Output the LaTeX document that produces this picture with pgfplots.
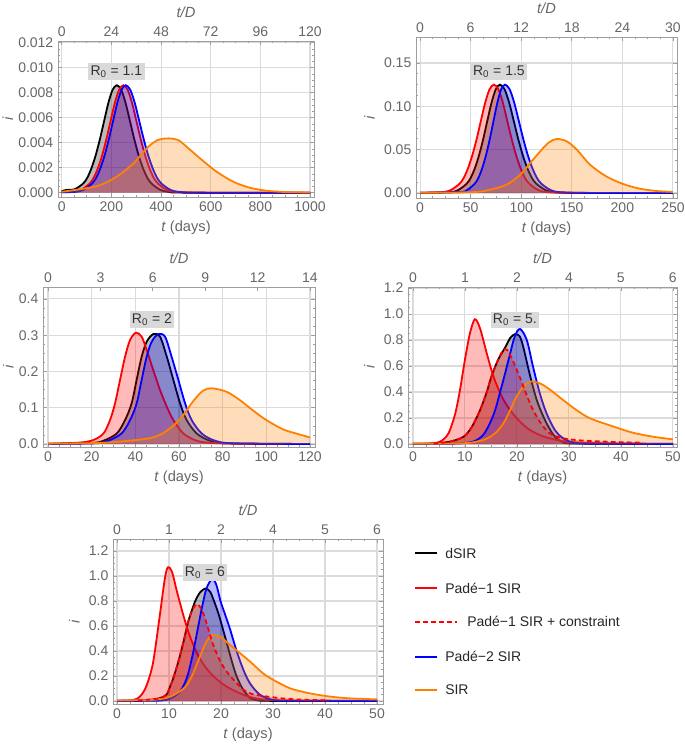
\documentclass[border=0pt]{standalone}
\usepackage{fontspec}
\setmainfont{Liberation Sans}
\usepackage{pgfplots}
\usepackage{pgfplotstable}
\pgfplotsset{compat=1.18}

\definecolor{framec}{gray}{0.62}
\definecolor{ticktext}{gray}{0.40}
\definecolor{gridc}{gray}{0.86}
\definecolor{mblue}{rgb}{0,0,1}
\definecolor{morange}{rgb}{1,0.5,0}
\definecolor{boxgray}{gray}{0.85}

\tikzset{r0box/.style={fill=boxgray, text=black!80, inner sep=1.8pt, font=\fontsize{10.5}{12}\selectfont}}

\pgfplotsset{
  panel/.style={
    scale only axis, anchor=south west,
    axis line style={-, framec, line width=0.7pt},
    tick style={framec, line width=0.5pt},
    major tick length=3pt, minor tick length=1.6pt,
    tick align=inside,
    xtick pos=left, ytick pos=both, yticklabel pos=left,
    minor x tick num=3, minor y tick num=3,
    tick label style={text=ticktext, font=\fontsize{10.5}{12}\selectfont},
    label style={text=ticktext, font=\fontsize{11}{13}\selectfont},
    /pgf/number format/assume math mode=true,
    /pgf/number format/1000 sep={},
    scaled ticks=false,
    grid=major, major grid style={gridc, line width=0.8pt},
    xlabel={\textit{t} (days)}, ylabel={\textit{i}},
  },
  toppanel/.style={
    scale only axis, anchor=south west,
    axis x line*=top, axis y line=none,
    axis line style={-, framec, line width=0.7pt},
    tick style={framec, line width=0.5pt},
    major tick length=3pt, minor tick length=1.6pt,
    tick align=inside,
    tick label style={text=ticktext, font=\fontsize{10.5}{12}\selectfont},
    label style={text=ticktext, font=\fontsize{11}{13}\selectfont},
    xlabel={\textit{t/D}},
    ymin=0, ymax=1,
  },
  ln/.style={line width=1.35pt, smooth},
  ar/.style={draw=none, fill opacity=0.27, smooth},
  dsh/.style={line width=1.35pt, smooth, red, dash pattern=on 3.5pt off 2.5pt},
}

% ---------- R0 = 1.1 ----------
\pgfplotstableread{
t i
0 0.00012
18 0.00022
52 0.00028
86 0.00073
103 0.0012
120 0.00198
137 0.00301
154 0.0043
171 0.00576
188 0.0072
205 0.00824
222 0.0086
239.5 0.00824
257 0.0072
274.5 0.00576
292 0.0043
309.5 0.00301
327 0.00198
344.5 0.0012
362 0.00073
397 0.00023
432 0.00007
500 0.00001
1000 0
}\pAblack
\pgfplotstableread{
t i
0 0.00005
44 0.00007
78 0.00023
112 0.00073
129 0.0012
146 0.00198
163 0.00301
180 0.0043
197 0.00576
214 0.0072
231 0.00824
248 0.0086
265.5 0.00824
283 0.0072
300.5 0.00576
318 0.0043
335.5 0.00301
353 0.00198
370.5 0.0012
388 0.00073
423 0.00023
458 0.00007
550 0.00001
1000 0
}\pAred
\pgfplotstableread{
t i
0 0.00004
54 0.00007
88 0.00023
122 0.00073
139 0.0012
156 0.00198
173 0.00301
190 0.0043
207 0.00576
224 0.0072
241 0.00824
258 0.0086
276 0.00824
294 0.0072
312 0.00576
330 0.0043
348 0.00301
366 0.00198
384 0.0012
402 0.00073
438 0.00023
474 0.00007
560 0.00001
1000 0
}\pAblue
\pgfplotstableread{
t i
0 0.00008
87 0.00032
154 0.00061
221 0.00128
289 0.00235
342 0.00355
385 0.0042
430 0.00435
470 0.0042
503 0.00368
557 0.00275
624 0.00168
691 0.00088
758 0.0004
826 0.00016
900 0.00006
1000 0.00002
}\pAorange

% ---------- R0 = 1.5 ----------
\pgfplotstableread{
t i
0 0.0002
29.5 0.001
37.75 0.0034
46 0.0106
50.1 0.0175
54.25 0.0288
58.4 0.0438
62.5 0.0625
66.6 0.0838
70.75 0.1046
74.9 0.1198
79 0.125
83.5 0.1198
88 0.1046
92.5 0.0838
97 0.0625
101.5 0.0438
106 0.0288
110.5 0.0175
115 0.0106
124 0.0034
133 0.001
160 0.0001
250 0
}\pBblack
\pgfplotstableread{
t i
0 0.0002
22 0.001
30.5 0.0034
39 0.0106
43.25 0.0175
47.5 0.0288
51.75 0.0438
56 0.0625
60.25 0.0838
64.5 0.1046
68.75 0.1198
73 0.125
77.4 0.1198
81.75 0.1046
86.1 0.0838
90.5 0.0625
94.9 0.0438
99.25 0.0288
103.6 0.0175
108 0.0106
116.75 0.0034
125.5 0.001
150 0.0001
250 0
}\pBred
\pgfplotstableread{
t i
0 0.0001
39 0.001
46.5 0.0034
54 0.0106
57.75 0.0175
61.5 0.0288
65.25 0.0438
69 0.0625
72.75 0.0838
76.5 0.1046
80.25 0.1198
84 0.125
88.5 0.1198
93 0.1046
97.5 0.0838
102 0.0625
106.5 0.0438
111 0.0288
115.5 0.0175
120 0.0106
129 0.0034
138 0.001
165 0.0001
250 0
}\pBblue
\pgfplotstableread{
t i
0 0.0003
53 0.001
69 0.0038
85.5 0.0096
99 0.021
108.5 0.034
118 0.047
127 0.058
135 0.0623
145 0.0596
155 0.05
168 0.0327
184 0.0192
200.7 0.0104
217 0.005
233.5 0.0023
250 0.0012
}\pBorange

% ---------- R0 = 2 ----------
\pgfplotstableread{
t i
0 0.0004
20 0.003
25.4 0.009
31.5 0.029
35.3 0.066
38.3 0.112
40.6 0.177
42.9 0.241
45.2 0.282
48.2 0.303
51.3 0.296
54.4 0.241
57.4 0.177
60.5 0.112
63.5 0.066
68.1 0.029
74.2 0.009
82 0.002
120 0
}\pCblack
\pgfplotstableread{
t i
0 0.0005
14.7 0.004
20.8 0.011
25.4 0.029
28.4 0.066
30.7 0.112
33 0.177
35.3 0.241
37.6 0.287
40.3 0.307
42.9 0.296
45.2 0.259
48.2 0.204
51.3 0.149
54.4 0.103
57.4 0.066
62 0.029
68.1 0.009
75 0.003
90 0.0005
120 0
}\pCred
\pgfplotstableread{
t i
0 0.0003
22 0.002
27.6 0.009
33.7 0.029
37.6 0.066
40.6 0.112
42.9 0.177
45.2 0.241
47.5 0.282
50.5 0.303
53.6 0.296
56.6 0.241
59.7 0.177
62.8 0.112
65.8 0.066
70.4 0.029
76.5 0.009
85 0.002
120 0
}\pCblue
\pgfplotstableread{
t i
0 0.001
23.7 0.003
39 0.01
46.6 0.016
50 0.022
54.3 0.036
60.4 0.068
66.5 0.118
71 0.147
75 0.1536
81.8 0.144
87.9 0.121
94 0.092
100 0.066
107.8 0.04
115.4 0.026
120 0.018
}\pCorange

% ---------- R0 = 5 ----------
\pgfplotstableread{
t i
0 0.001
4 0.004
7.1 0.018
9.7 0.055
11.3 0.13
12.9 0.26
14.2 0.4
15.1 0.52
16.4 0.65
17.7 0.74
18.7 0.815
19.6 0.845
20.5 0.83
21.2 0.75
22.5 0.53
23.8 0.34
25.1 0.21
26.4 0.108
27.6 0.044
28.9 0.015
31 0.004
50 0
}\pDblack
\pgfplotstableread{
t i
0 0.002
3 0.004
5.2 0.018
6.8 0.08
8.1 0.23
9.04 0.415
10 0.65
10.95 0.85
11.9 0.96
12.9 0.89
14.2 0.697
15.5 0.518
17.1 0.364
18.7 0.26
20.6 0.172
22.5 0.108
25.1 0.058
28.9 0.022
33 0.01
40 0.004
50 0.002
}\pDred
\pgfplotstableread{
t i
4 0.004
7.1 0.018
9.7 0.055
11.3 0.13
12.9 0.26
14.2 0.4
15.1 0.52
16.4 0.65
17.2 0.715
17.8 0.73
18.4 0.71
19 0.66
20.3 0.54
21.5 0.415
22.8 0.287
24.4 0.172
26.3 0.082
28.9 0.044
32.1 0.028
36 0.02
40 0.014
44 0.01
}\pDdash
\pgfplotstableread{
t i
0 0.001
8 0.003
11.6 0.019
13.5 0.07
14.8 0.16
15.8 0.26
16.7 0.39
17.7 0.54
18.7 0.697
19.6 0.83
20.6 0.885
21.9 0.8
23.1 0.595
24.4 0.39
25.7 0.236
27.3 0.108
28.9 0.044
30.8 0.011
34 0.003
50 0.001
}\pDblue
\pgfplotstableread{
t i
0 0.003
9.7 0.006
13.5 0.031
15.8 0.082
17.4 0.16
18.7 0.26
19.9 0.364
21.2 0.44
22.5 0.48
24.4 0.467
26.3 0.42
28.9 0.338
31.5 0.26
34.1 0.197
38.5 0.135
42.3 0.087
46.2 0.056
50 0.036
}\pDorange

% ---------- R0 = 6 ----------
\pgfplotstableread{
t i
0 0.001
5 0.005
8 0.02
9.5 0.05
10.2 0.115
10.8 0.18
11.8 0.315
12.8 0.475
13.7 0.635
15 0.795
16 0.87
17 0.9
17.9 0.875
18.65 0.8
19.5 0.7
20.4 0.57
21.2 0.45
22 0.33
22.8 0.22
23.5 0.15
24.3 0.088
25.6 0.025
27 0.006
30 0.001
50 0
}\pEblack
\pgfplotstableread{
t i
0 0.002
3.1 0.008
4.4 0.035
5.6 0.115
6.9 0.3
8.2 0.675
9.2 0.98
9.8 1.07
10.6 1.03
11.5 0.88
12.8 0.68
14 0.52
15.3 0.39
16.6 0.295
18.5 0.2
21.1 0.115
24.3 0.05
27.5 0.015
32 0.006
40 0.003
50 0.002
}\pEred
\pgfplotstableread{
t i
4 0.004
8 0.02
9.5 0.05
10.2 0.115
10.8 0.18
11.8 0.315
12.8 0.475
13.7 0.635
14.5 0.73
15.4 0.775
16.3 0.73
17 0.65
17.6 0.57
18.4 0.46
19.7 0.33
21 0.24
22.4 0.17
24.3 0.09
26 0.055
28.1 0.04
32 0.02
35.8 0.01
40 0.006
}\pEdash
\pgfplotstableread{
t i
0 0.001
8 0.003
10.2 0.02
12.1 0.075
13.4 0.181
14.4 0.341
15.3 0.528
16.3 0.74
17.2 0.9
18.3 0.975
19.1 0.93
19.9 0.8
20.8 0.69
21.7 0.58
23 0.4
24.3 0.25
25.6 0.14
27.5 0.05
30 0.008
33 0.002
50 0.001
}\pEblue
\pgfplotstableread{
t i
0 0.004
6.3 0.008
9.5 0.025
10.8 0.045
12 0.075
13.3 0.12
14.5 0.208
15.8 0.34
17 0.46
17.9 0.515
18.7 0.53
20 0.51
21.7 0.45
23.7 0.381
25.6 0.315
28.1 0.221
30.1 0.168
33.3 0.101
37.1 0.061
41 0.035
44.8 0.021
50 0.013
}\pEorange

\begin{document}
\begin{tikzpicture}
\path[use as bounding box] (0,0) rectangle (513.75pt,558pt);

% ===== panel 1 =====
\begin{axis}[panel, at={(43.5pt,410.25pt)}, width=192pt, height=117pt,
  xmin=-15, xmax=1016, ymin=-0.00034, ymax=0.01214, ylabel shift=-3pt,
  xtick={0,200,400,600,800,1000},
  ytick={0,0.002,0.004,0.006,0.008,0.010,0.012},
  yticklabel style={/pgf/number format/.cd, fixed, fixed zerofill, precision=3}]
\addplot[ar, fill=black] table {\pAblack} \closedcycle;
\addplot[ln, black] table {\pAblack};
\addplot[ar, fill=red] table {\pAred} \closedcycle;
\addplot[ln, red] table {\pAred};
\addplot[ar, fill=mblue] table {\pAblue} \closedcycle;
\addplot[ln, mblue] table {\pAblue};
\addplot[ar, fill=morange] table {\pAorange} \closedcycle;
\addplot[ln, morange] table {\pAorange};
\node[r0box] at (axis cs:220,0.0097) {R\textsubscript{0} = 1.1};
\end{axis}
\begin{axis}[toppanel, at={(43.5pt,410.25pt)}, width=192pt, height=117pt,
  xmin=-15, xmax=1016, minor x tick num=3,
  xtick={0,200,400,600,800,1000}, xticklabels={0,24,48,72,96,120}]
\end{axis}

% ===== panel 2 =====
\begin{axis}[panel, at={(312pt,409.5pt)}, width=195.75pt, height=120.75pt,
  xmin=-4, xmax=254, ymin=-0.0058, ymax=0.18,
  xtick={0,50,100,150,200,250},
  ytick={0,0.05,0.1,0.15},
  yticklabel style={/pgf/number format/.cd, fixed, fixed zerofill, precision=2}]
\addplot[ar, fill=black] table {\pBblack} \closedcycle;
\addplot[ln, black] table {\pBblack};
\addplot[ar, fill=red] table {\pBred} \closedcycle;
\addplot[ln, red] table {\pBred};
\addplot[ar, fill=mblue] table {\pBblue} \closedcycle;
\addplot[ln, mblue] table {\pBblue};
\addplot[ar, fill=morange] table {\pBorange} \closedcycle;
\addplot[ln, morange] table {\pBorange};
\node[r0box] at (axis cs:78,0.14) {R\textsubscript{0} = 1.5};
\end{axis}
\begin{axis}[toppanel, at={(312pt,409.5pt)}, width=195.75pt, height=120.75pt,
  xmin=-4, xmax=254, minor x tick num=3,
  xtick={0,50,100,150,200,250}, xticklabels={0,6,12,18,24,30}]
\end{axis}

% ===== panel 3 =====
\begin{axis}[panel, at={(32.25pt,222.75pt)}, width=204pt, height=120pt,
  xmin=-2.3, xmax=122.3, ymin=-0.0083, ymax=0.433, ylabel shift=-3pt,
  xtick={0,20,40,60,80,100,120},
  ytick={0,0.1,0.2,0.3,0.4},
  yticklabel style={/pgf/number format/.cd, fixed, fixed zerofill, precision=1}]
\addplot[ar, fill=black] table {\pCblack} \closedcycle;
\addplot[ln, black] table {\pCblack};
\addplot[ar, fill=red] table {\pCred} \closedcycle;
\addplot[ln, red] table {\pCred};
\addplot[ar, fill=mblue] table {\pCblue} \closedcycle;
\addplot[ln, mblue] table {\pCblue};
\addplot[ar, fill=morange] table {\pCorange} \closedcycle;
\addplot[ln, morange] table {\pCorange};
\node[r0box] at (axis cs:47.6,0.343) {R\textsubscript{0} = 2};
\end{axis}
\begin{axis}[toppanel, at={(32.25pt,222.75pt)}, width=204pt, height=120pt,
  xmin=-2.3, xmax=122.3,
  xtick={0,24,48,72,96,120}, xticklabels={0,3,6,9,12,14}]
\end{axis}

% ===== panel 4 =====
\begin{axis}[panel, at={(306pt,222.75pt)}, width=201.75pt, height=120pt,
  xmin=-0.96, xmax=50.8, ymin=-0.023, ymax=1.208,
  xtick={0,10,20,30,40,50},
  ytick={0,0.2,0.4,0.6,0.8,1.0,1.2},
  yticklabel style={/pgf/number format/.cd, fixed, fixed zerofill, precision=1}]
\addplot[ar, fill=black] table {\pDblack} \closedcycle;
\addplot[ln, black] table {\pDblack};
\addplot[ar, fill=red] table {\pDred} \closedcycle;
\addplot[ln, red] table {\pDred};
\addplot[ar, fill=red] table {\pDdash} \closedcycle;
\addplot[ar, fill=mblue] table {\pDblue} \closedcycle;
\addplot[ln, mblue] table {\pDblue};
\addplot[ar, fill=morange] table {\pDorange} \closedcycle;
\addplot[ln, morange] table {\pDorange};
\addplot[dsh] table {\pDdash};
\node[r0box] at (axis cs:19.6,0.954) {R\textsubscript{0} = 5.};
\end{axis}
\begin{axis}[toppanel, at={(306pt,222.75pt)}, width=201.75pt, height=120pt,
  xmin=-0.96, xmax=50.8, minor x tick num=3,
  xtick={0,10,20,30,40,50}, xticklabels={0,1,2,4,5,6}]
\end{axis}

% ===== panel 5 =====
\begin{axis}[panel, at={(84.75pt,30pt)}, width=202.5pt, height=123.75pt,
  xmin=-0.77, xmax=51.15, ymin=-0.024, ymax=1.296,
  xtick={0,10,20,30,40,50},
  ytick={0,0.2,0.4,0.6,0.8,1.0,1.2},
  yticklabel style={/pgf/number format/.cd, fixed, fixed zerofill, precision=1}]
\addplot[ar, fill=black] table {\pEblack} \closedcycle;
\addplot[ln, black] table {\pEblack};
\addplot[ar, fill=red] table {\pEred} \closedcycle;
\addplot[ln, red] table {\pEred};
\addplot[ar, fill=red] table {\pEdash} \closedcycle;
\addplot[ar, fill=mblue] table {\pEblue} \closedcycle;
\addplot[ln, mblue] table {\pEblue};
\addplot[ar, fill=morange] table {\pEorange} \closedcycle;
\addplot[ln, morange] table {\pEorange};
\addplot[dsh] table {\pEdash};
\node[r0box] at (axis cs:16.9,1.026) {R\textsubscript{0} = 6};
\end{axis}
\begin{axis}[toppanel, at={(84.75pt,30pt)}, width=202.5pt, height=123.75pt,
  xmin=-0.77, xmax=51.15, minor x tick num=3,
  xtick={0,10,20,30,40,50}, xticklabels={0,1,2,4,5,6}]
\end{axis}

% ===== legend =====
\begin{scope}[every node/.style={anchor=west, inner sep=0pt, text=black!85, font=\fontsize{10.5}{12}\selectfont}]
\draw[black, line width=1.35pt] (311.25pt,143pt) -- (327.75pt,143pt);
\node at (333.75pt,143pt) {dSIR};
\draw[red, line width=1.35pt] (311.25pt,116.8pt) -- (327.75pt,116.8pt);
\node at (333.75pt,116.8pt) {Padé−1 SIR};
\draw[red, line width=1.35pt, dash pattern=on 3.5pt off 2.5pt] (311.25pt,91.7pt) -- (342.75pt,91.7pt);
\node at (350.25pt,91.7pt) {Padé−1 SIR + constraint};
\draw[mblue, line width=1.35pt] (311.25pt,65.5pt) -- (327.75pt,65.5pt);
\node at (333.75pt,65.5pt) {Padé−2 SIR};
\draw[morange, line width=1.35pt] (311.25pt,40.5pt) -- (327.75pt,40.5pt);
\node at (333.75pt,40.5pt) {SIR};
\end{scope}
\end{tikzpicture}
\end{document}
